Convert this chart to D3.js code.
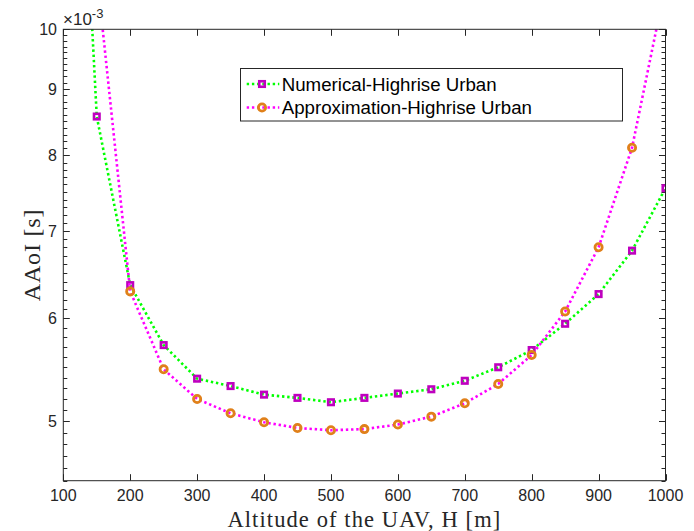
<!DOCTYPE html>
<html>
<head>
<meta charset="utf-8">
<script src="https://cdn.jsdelivr.net/npm/d3@7/dist/d3.min.js"></script>
<style>
  html, body { margin: 0; padding: 0; background: #fff; }
  svg { display: block; }
</style>
</head>
<body>
<svg id="chart" width="694" height="531"></svg>
<script>
// ---- data ----
const altitudeNumerical = [100, 150, 200, 250, 300, 350, 400, 450, 500, 550, 600, 650, 700, 750, 800, 850, 900, 950, 1000];
const aaoiNumerical = [27.0e-3, 8.57e-3, 6.36e-3, 5.72e-3, 5.39e-3, 5.32e-3, 5.24e-3, 5.21e-3, 5.17e-3, 5.21e-3, 5.25e-3, 5.29e-3, 5.37e-3, 5.50e-3, 5.67e-3, 5.94e-3, 6.26e-3, 6.76e-3, 7.55e-3];
const altitudeApprox = [150, 200, 250, 300, 350, 400, 450, 500, 550, 600, 650, 700, 750, 800, 850, 900, 950, 1000];
const aaoiApprox = [11.05e-3, 6.29e-3, 5.48e-3, 5.20e-3, 5.07e-3, 4.99e-3, 4.94e-3, 4.92e-3, 4.93e-3, 4.97e-3, 5.04e-3, 5.16e-3, 5.34e-3, 5.62e-3, 6.07e-3, 6.80e-3, 8.11e-3, 10.82e-3];
const markerAltitudes = [150, 200, 250, 300, 350, 400, 450, 500, 550, 600, 650, 700, 750, 800, 850, 900, 950, 1000];
const xTicks = [100, 200, 300, 400, 500, 600, 700, 800, 900, 1000];
const yTicks = [5e-3, 6e-3, 7e-3, 8e-3, 9e-3, 10e-3];
const yTickLabels = ["5", "6", "7", "8", "9", "10"];
const seriesNames = ["Numerical-Highrise Urban", "Approximation-Highrise Urban"];

// ---- layout ----
const L = 63.3, R = 665.5, T = 29.3, B = 480.7;
const axisColor = "#262626";
const svg = d3.select("#chart");

const x = d3.scaleLinear().domain([100, 1000]).range([L, R]);
const y = d3.scaleLog().domain([4.5e-3, 10e-3]).range([B, T]);

svg.append("rect").attr("x", 0).attr("y", 0).attr("width", 694).attr("height", 531).attr("fill", "#fff");

svg.append("defs").append("clipPath").attr("id", "plotclip")
  .append("rect").attr("x", L).attr("y", T).attr("width", R - L).attr("height", B - T);

// minor ticks (every 0.1e-3)
const minorTicks = [];
for (let k = 45; k <= 100; k++) {
  if (k % 10 !== 0) minorTicks.push(k / 10 * 1e-3);
}

const axG = svg.append("g");
yTicks.forEach(v => {
  const yy = Math.round(y(v)) + 0.5;
  axG.append("line").attr("x1", L).attr("x2", L + 6.5).attr("y1", yy).attr("y2", yy).attr("stroke", axisColor).attr("stroke-width", 1);
  axG.append("line").attr("x1", R).attr("x2", R - 6.5).attr("y1", yy).attr("y2", yy).attr("stroke", axisColor).attr("stroke-width", 1);
});
minorTicks.forEach(v => {
  const yy = Math.round(y(v)) + 0.5;
  axG.append("line").attr("x1", L).attr("x2", L + 4).attr("y1", yy).attr("y2", yy).attr("stroke", axisColor).attr("stroke-width", 1);
  axG.append("line").attr("x1", R).attr("x2", R - 4).attr("y1", yy).attr("y2", yy).attr("stroke", axisColor).attr("stroke-width", 1);
});
xTicks.forEach(v => {
  const xx = Math.round(x(v)) + 0.5;
  axG.append("line").attr("x1", xx).attr("x2", xx).attr("y1", B).attr("y2", B - 6.5).attr("stroke", axisColor).attr("stroke-width", 1);
  axG.append("line").attr("x1", xx).attr("x2", xx).attr("y1", T).attr("y2", T + 6.5).attr("stroke", axisColor).attr("stroke-width", 1);
});

// tick labels
const tickFont = "'Liberation Sans', Arial, Helvetica, sans-serif";
svg.append("g").selectAll("text").data(xTicks).join("text")
  .attr("x", d => x(d)).attr("y", 501)
  .attr("text-anchor", "middle")
  .attr("font-family", tickFont).attr("font-size", 16).attr("fill", axisColor)
  .text(d => d);
svg.append("g").selectAll("text").data(yTicks).join("text")
  .attr("x", 57).attr("y", d => y(d) + 5.8)
  .attr("text-anchor", "end")
  .attr("font-family", tickFont).attr("font-size", 16).attr("fill", axisColor)
  .text((d, i) => yTickLabels[i]);

// exponent label
const expT = svg.append("text").attr("x", 63).attr("y", 25)
  .attr("font-family", tickFont).attr("font-size", 17).attr("fill", axisColor);
expT.append("tspan").text("\u00d710");
expT.append("tspan").attr("dy", -7).attr("font-size", 13).text("-3");

// ---- series ----
const numData = altitudeNumerical.map((a, i) => ({ a, v: aaoiNumerical[i] }));
const appData = altitudeApprox.map((a, i) => ({ a, v: aaoiApprox[i] }));
const line = d3.line().x(d => x(d.a)).y(d => y(d.v));

const plot = svg.append("g").attr("clip-path", "url(#plotclip)");
const sqColor = "#bf00bf";
const ciColor = "#e0801a";

function drawSquare(g, cx, cy) {
  g.append("rect").attr("x", cx - 2.75).attr("y", cy - 2.75).attr("width", 5.5).attr("height", 5.5)
    .attr("fill", "none").attr("stroke", sqColor).attr("stroke-width", 2.6);
}
function drawCircle(g, cx, cy) {
  g.append("circle").attr("cx", cx).attr("cy", cy).attr("r", 3.6)
    .attr("fill", "none").attr("stroke", ciColor).attr("stroke-width", 2.8);
}

plot.append("path").attr("d", line(numData)).attr("fill", "none")
  .attr("stroke", "#00ff00").attr("stroke-width", 2.6).attr("stroke-dasharray", "2.4 2.8");
numData.filter(d => markerAltitudes.includes(d.a)).forEach(d => drawSquare(plot, x(d.a), y(d.v)));

plot.append("path").attr("d", line(appData)).attr("fill", "none")
  .attr("stroke", "#ff00ff").attr("stroke-width", 2.6).attr("stroke-dasharray", "2.4 2.8");
appData.filter(d => markerAltitudes.includes(d.a)).forEach(d => drawCircle(plot, x(d.a), y(d.v)));

svg.append("rect").attr("x", L).attr("y", T).attr("width", R - L).attr("height", B - T)
  .attr("fill", "none").attr("stroke", axisColor).attr("stroke-width", 1);

// ---- axis labels ----
const serif = "'Liberation Serif', 'Times New Roman', serif";
svg.append("text").attr("x", (L + R) / 2).attr("y", 527)
  .attr("text-anchor", "middle").attr("font-family", serif).attr("font-size", 22.5)
  .attr("letter-spacing", 1.1).attr("fill", axisColor)
  .text("Altitude of the UAV, H [m]");
svg.append("text").attr("transform", `translate(40, ${(T + B) / 2}) rotate(-90)`)
  .attr("text-anchor", "middle").attr("font-family", serif).attr("font-size", 24)
  .attr("letter-spacing", 0.8).attr("fill", axisColor)
  .text("AAoI [s]");

// ---- legend ----
const lg = svg.append("g");
lg.append("rect").attr("x", 240.5).attr("y", 68.5).attr("width", 382).attr("height", 52.5)
  .attr("fill", "#fff").attr("stroke", axisColor).attr("stroke-width", 1);
const legRows = [
  { name: seriesNames[0], color: "#00ff00", y: 84, marker: "s" },
  { name: seriesNames[1], color: "#ff00ff", y: 107.5, marker: "o" }
];
legRows.forEach(r => {
  lg.append("line").attr("x1", 246.7).attr("x2", 279.3).attr("y1", r.y).attr("y2", r.y)
    .attr("stroke", r.color).attr("stroke-width", 2.6).attr("stroke-dasharray", "2.4 2.8");
  if (r.marker === "s") drawSquare(lg, 262, r.y); else drawCircle(lg, 262, r.y);
  lg.append("text").attr("x", 281.7).attr("y", r.y + 6.7)
    .attr("font-family", tickFont).attr("font-size", 18.7).attr("fill", "#000")
    .text(r.name);
});
</script>
</body>
</html>
